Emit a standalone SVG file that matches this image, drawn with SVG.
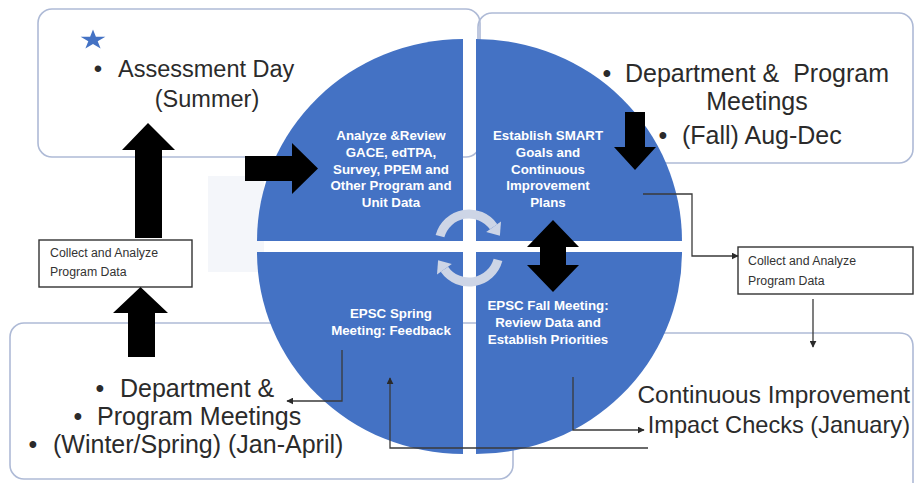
<svg xmlns="http://www.w3.org/2000/svg" width="915" height="483" viewBox="0 0 915 483">
<defs>
<style>
.box{fill:none;stroke:#aebad6;stroke-width:1.6}
.quad{fill:#4472C4}
.qt{font-family:"Liberation Sans",Arial,sans-serif;font-weight:bold;font-size:13.3px;fill:#ffffff;text-anchor:middle}
.big{font-family:"Liberation Sans",Arial,sans-serif;font-size:25px;fill:#2b2b2b}
.bul{font-family:"Liberation Sans",Arial,sans-serif;font-size:25px;fill:#2b2b2b;text-anchor:middle}
.small{font-family:"Liberation Sans",Arial,sans-serif;font-size:12.3px;fill:#333333}
.sbox{fill:#ffffff;stroke:#333333;stroke-width:1.4}
.blk{fill:#000000}
.conn{fill:none;stroke:#3a3a3a;stroke-width:1.3}
.cyc{fill:none;stroke:#cdd5e6;stroke-width:9}
.cyh{fill:#cdd5e6}
</style>
<marker id="ah" viewBox="0 0 10 10" refX="9" refY="5" markerWidth="7" markerHeight="7" orient="auto" markerUnits="userSpaceOnUse">
<path d="M0,0 L10,5 L0,10 z" fill="#2a2a2a"/>
</marker>
</defs>
<rect width="915" height="483" fill="#ffffff"/>
<rect x="208" y="176" width="56" height="96" fill="#f4f6fa"/>

<g id="box-assessment">
<rect class="box" x="38" y="9" width="442" height="148" rx="14"/>
<polygon fill="#4472C4" points="93,29.5 95.9,36.8 105.4,36.8 97.7,41.2 100.6,48.5 93,44 85.4,48.5 88.3,41.2 80.6,36.8 90.1,36.8"/>
<text class="bul" x="98" y="77" style="font-size:24px">•</text>
<text class="big" x="118" y="77" style="font-size:23.5px">Assessment Day</text>
<text class="big" x="207" y="107" style="font-size:23.5px" text-anchor="middle">(Summer)</text>
</g>

<g id="box-fall">
<rect class="box" x="478" y="13" width="435" height="150" rx="14"/>
<text class="bul" x="607" y="82">•</text>
<text class="big" x="625" y="82" xml:space="preserve">Department &amp;  Program</text>
<text class="big" x="757" y="110" text-anchor="middle">Meetings</text>
<text class="bul" x="663" y="144">•</text>
<text class="big" x="682" y="144">(Fall) Aug-Dec</text>
</g>

<g id="box-winter">
<rect class="box" x="10" y="323" width="503" height="156" rx="14"/>
<text class="bul" x="100" y="397">•</text>
<text class="big" x="120" y="397">Department &amp;</text>
<text class="bul" x="78" y="425">•</text>
<text class="big" x="97" y="425">Program Meetings</text>
<text class="bul" x="33" y="453">•</text>
<text class="big" x="53" y="453">(Winter/Spring) (Jan-April)</text>
</g>

<g id="box-impact">
<path class="box" d="M520,333 H899 Q913,333 913,347 V490"/>
<text class="big" x="910" y="403" text-anchor="end" style="font-size:24.4px">Continuous Improvement</text>
<text class="big" x="910" y="433" text-anchor="end" style="font-size:23.6px">Impact Checks (January)</text>
</g>

<g id="cycle">
<g id="q-analyze">
<path class="quad" d="M463,241 H257 A206,202 0 0,1 463,39 Z"/>
<text class="qt" x="391" y="140">Analyze &amp;Review</text>
<text class="qt" x="391" y="157">GACE, edTPA,</text>
<text class="qt" x="391" y="174">Survey, PPEM and</text>
<text class="qt" x="391" y="190">Other Program and</text>
<text class="qt" x="391" y="207">Unit Data</text>
</g>
<g id="q-smart">
<path class="quad" d="M476,241 V39 A206,202 0 0,1 682,241 Z"/>
<text class="qt" x="548" y="140">Establish SMART</text>
<text class="qt" x="548" y="157">Goals and</text>
<text class="qt" x="548" y="174">Continuous</text>
<text class="qt" x="548" y="190">Improvement</text>
<text class="qt" x="548" y="207">Plans</text>
</g>
<g id="q-spring">
<path class="quad" d="M463,252 V454 A206,202 0 0,1 257,252 Z"/>
<text class="qt" x="391" y="318">EPSC Spring</text>
<text class="qt" x="391" y="335">Meeting: Feedback</text>
</g>
<g id="q-fall">
<path class="quad" d="M476,252 H682 A206,202 0 0,1 476,454 Z"/>
<text class="qt" x="548" y="310">EPSC Fall Meeting:</text>
<text class="qt" x="548" y="327">Review Data and</text>
<text class="qt" x="548" y="344">Establish Priorities</text>
</g>
<g id="cycle-arrows">
<path class="cyc" d="M440,236.2 A30,30 0 0,1 493.6,226.8"/>
<polygon class="cyh" points="501,221.6 486.2,232 499.9,235.8"/>
<path class="cyc" d="M498,259.8 A30,30 0 0,1 444.4,269.2"/>
<polygon class="cyh" points="437,274.4 451.8,264 438.1,260.2"/>
</g>
</g>

<g id="collect-left">
<rect class="sbox" x="39" y="240" width="153" height="47"/>
<text class="small" x="50" y="257">Collect and Analyze</text>
<text class="small" x="50" y="276">Program Data</text>
</g>

<g id="collect-right">
<rect class="sbox" x="738" y="247" width="175" height="47"/>
<text class="small" x="748" y="265">Collect and Analyze</text>
<text class="small" x="748" y="285">Program Data</text>
</g>

<g id="connectors">
<polygon class="blk" points="148,123 175,150 162,150 162,238 135,238 135,150 122,150"/>
<polygon class="blk" points="245,156 292,156 292,143 318,168.5 292,194 292,181 245,181"/>
<polygon class="blk" points="140.5,287 168,313 155,313 155,357 128,357 128,313 113,313"/>
<polygon class="blk" points="625,112 645,112 645,147 656,147 635,170 614,147 625,147"/>
<polygon class="blk" points="553,220 579,247 566,247 566,265 579,265 553,292 527,265 540,265 540,247 527,247"/>
<path class="conn" d="M643,194 H692 V256 H738" marker-end="url(#ah)"/>
<path class="conn" d="M813,299 V347" marker-end="url(#ah)"/>
<path class="conn" d="M573,377 V430 H644" marker-end="url(#ah)"/>
<path class="conn" d="M648,448 H390 V378" marker-end="url(#ah)"/>
<path class="conn" d="M342,350 V401 H287" marker-end="url(#ah)"/>
</g>
</svg>
